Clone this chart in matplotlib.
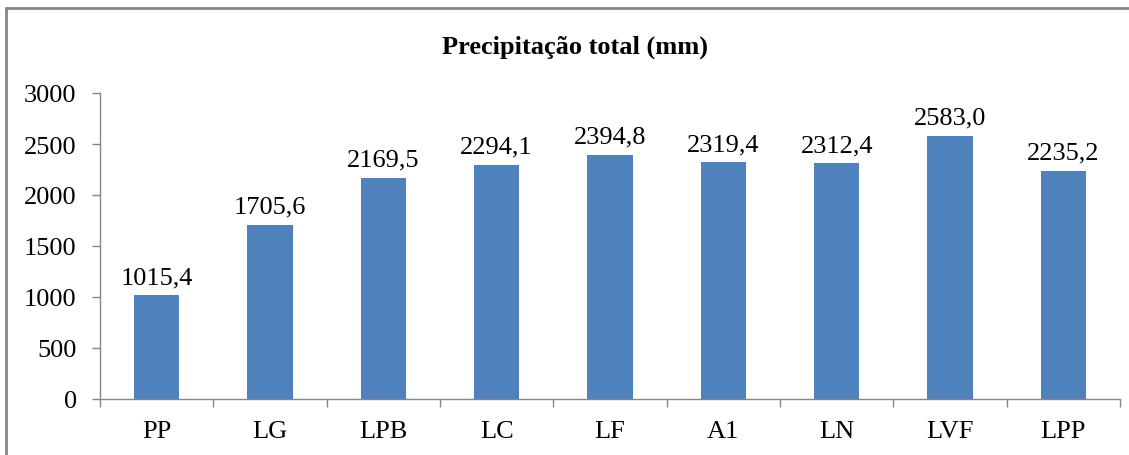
import numpy as np
import matplotlib.pyplot as plt
from matplotlib.patches import Rectangle

# Precipitação total por estação (mm)
estacoes = ["PP", "LG", "LPB", "LC", "LF", "A1", "LN", "LVF", "LPP"]
precipitacao = [1015.4, 1705.6, 2169.5, 2294.1, 2394.8, 2319.4, 2312.4, 2583.0, 2235.2]
y_ticks = [0, 500, 1000, 1500, 2000, 2500, 3000]

plt.rcParams['font.family'] = ['Liberation Serif', 'DejaVu Serif']

fig = plt.figure(figsize=(11.29, 4.56), dpi=100)
ax = fig.add_axes([100 / 1129, 1 - 400 / 456, 1020 / 1129, 306 / 456])

x = np.arange(len(estacoes))
ax.bar(x, precipitacao, width=0.4, color='#4F81BD', zorder=2)

for xi, v in zip(x, precipitacao):
    ax.text(xi, v + 70, f"{v:.1f}".replace('.', ','), ha='center', va='bottom', fontsize=19)

ax.set_xlim(-0.5, len(estacoes) - 0.5)
ax.set_ylim(0, 3000)
ax.set_yticks(y_ticks)
ax.set_yticklabels([str(t) for t in y_ticks], fontsize=19)
ax.set_xticks(x)
ax.set_xticklabels(estacoes, fontsize=19)
ax.set_xticks(np.arange(len(estacoes) + 1) - 0.5, minor=True)
ax.tick_params(axis='x', which='major', length=0, pad=15)
ax.tick_params(axis='x', which='minor', length=5.8, color='#868686', width=1)
ax.tick_params(axis='y', length=5.8, color='#868686', width=1, pad=11)

for s in ['top', 'right']:
    ax.spines[s].set_visible(False)
for s in ['left', 'bottom']:
    ax.spines[s].set_color('#868686')
    ax.spines[s].set_linewidth(1)

fig.text(575 / 1129, 1 - 47 / 456, "Precipitação total (mm)", ha='center', va='center',
         fontsize=19, fontweight='bold')

# moldura do gráfico
fig.patches.append(Rectangle((6 / 1129, -0.1), 1.2, 1 - 9 / 456 + 0.1, transform=fig.transFigure,
                             fill=False, edgecolor='#868686', linewidth=2))

fig.savefig('out.png', dpi=100)
